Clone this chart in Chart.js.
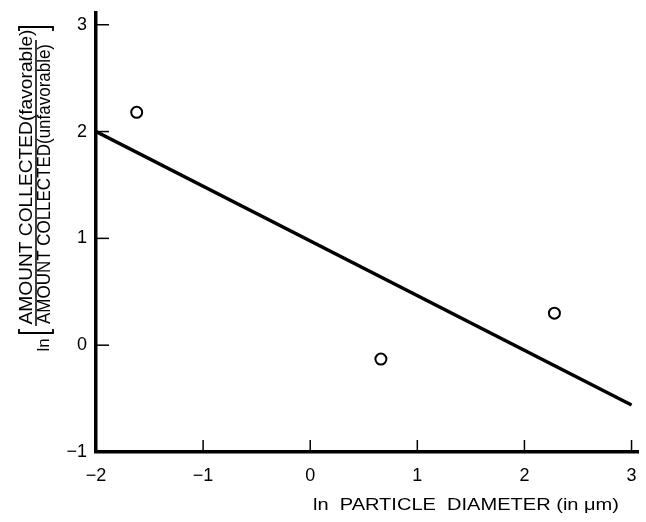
<!DOCTYPE html>
<html><head><meta charset="utf-8">
<script src="https://cdn.jsdelivr.net/npm/chart.js@4"></script>
<style>html,body{margin:0;padding:0;background:#fff}#wrap{width:646px;height:522px}</style>
</head><body><div id="wrap"><canvas id="c" width="646" height="522"></canvas></div>
<script>
// ---- data ----
const xTicks = [-2, -1, 0, 1, 2, 3];
const yTicks = [-1, 0, 1, 2, 3];
const xTickLabels = ['\u22122', '\u22121', '0', '1', '2', '3'];
const yTickLabels = ['\u22121', '0', '1', '2', '3'];
const pointsX = [-1.62, 0.66, 2.28];
const pointsY = [2.18, -0.13, 0.30];
const fitX = [-2, 3];
const fitY = [2.0, -0.56];
const xTitle = 'ln  PARTICLE  DIAMETER (in \u03bcm)';
const yTitleTop = 'AMOUNT COLLECTED(favorable)';
const yTitleBottom = 'AMOUNT COLLECTED(unfavorable)';
const yTitlePrefix = 'ln';

const FONT = '"Liberation Sans", Arial, sans-serif';

function drawFitted(ctx, text, cx, cy, targetW, size) {
  ctx.font = size + 'px ' + FONT;
  const w = ctx.measureText(text).width;
  ctx.save();
  ctx.translate(cx, cy);
  ctx.scale(targetW / w, 1);
  ctx.textAlign = 'center';
  ctx.textBaseline = 'middle';
  ctx.fillText(text, 0, 0);
  ctx.restore();
}

const decor = {
  id: 'decor',
  afterDraw(chart) {
    const ctx = chart.ctx;
    const xs = chart.scales.x, ys = chart.scales.y;
    const ca = chart.chartArea;
    ctx.save();
    ctx.strokeStyle = '#000';
    ctx.fillStyle = '#000';
    ctx.lineWidth = 1.5;
    // inward ticks
    xTicks.forEach(v => {
      if (v === xTicks[0]) return;
      const px = xs.getPixelForValue(v);
      ctx.beginPath(); ctx.moveTo(px, ca.bottom); ctx.lineTo(px, ca.bottom - 12); ctx.stroke();
    });
    yTicks.forEach(v => {
      if (v === yTicks[0]) return;
      const py = ys.getPixelForValue(v);
      ctx.beginPath(); ctx.moveTo(ca.left, py); ctx.lineTo(ca.left + 13, py); ctx.stroke();
    });
    // x title
    drawFitted(ctx, xTitle, 466, 506, 306, 16);
    // y title (rotated): local x = -screenY, local y = screenX
    ctx.save();
    ctx.rotate(-Math.PI / 2);
    drawFitted(ctx, yTitleTop, -177, 27, 295, 18);
    drawFitted(ctx, yTitleBottom, -184, 45, 280, 18);
    ctx.lineWidth = 1.5;
    ctx.beginPath(); ctx.moveTo(-326, 36); ctx.lineTo(-40, 36); ctx.stroke();
    ctx.font = '17px ' + FONT;
    ctx.textAlign = 'center'; ctx.textBaseline = 'middle';
    ctx.fillText(yTitlePrefix, -345, 44);
    ctx.lineWidth = 1.8;
    ctx.beginPath();
    ctx.moveTo(-329, 19); ctx.lineTo(-333, 19); ctx.lineTo(-333, 53); ctx.lineTo(-329, 53);
    ctx.stroke();
    ctx.beginPath();
    ctx.moveTo(-31, 19); ctx.lineTo(-27, 19); ctx.lineTo(-27, 53); ctx.lineTo(-31, 53);
    ctx.stroke();
    ctx.restore();
    ctx.restore();
  }
};

new Chart(document.getElementById('c'), {
  data: {
    datasets: [
      {
        type: 'line',
        data: fitX.map((x, i) => ({ x: x, y: fitY[i] })),
        borderColor: '#000', borderWidth: 3.5, pointRadius: 0, fill: false, tension: 0
      },
      {
        type: 'scatter',
        data: pointsX.map((x, i) => ({ x: x, y: pointsY[i] })),
        pointStyle: 'circle', pointRadius: 5.5, borderWidth: 2,
        borderColor: '#000', backgroundColor: 'rgba(255,255,255,0)'
      }
    ]
  },
  options: {
    responsive: false, animation: false, devicePixelRatio: 1,
    layout: { padding: { top: 13, right: 3, left: 0, bottom: 0 } },
    plugins: { legend: { display: false }, tooltip: { enabled: false } },
    scales: {
      x: {
        type: 'linear', min: -2, max: 3.065,
        afterBuildTicks: s => { s.ticks = xTicks.map(v => ({ value: v })); },
        afterFit: s => { s.height = 70; s.paddingLeft = 0; s.paddingRight = 0; },
        ticks: {
          callback: v => xTickLabels[xTicks.indexOf(v)],
          font: { family: FONT, size: 18 }, color: '#000', padding: 13,
          maxRotation: 0, autoSkip: false
        },
        grid: { display: false, drawTicks: false },
        border: { display: true, width: 3.5, color: '#000' }
      },
      y: {
        type: 'linear', min: -1, max: 3.11,
        afterBuildTicks: s => { s.ticks = yTicks.map(v => ({ value: v })); },
        afterFit: s => { s.width = 96; s.paddingTop = 0; s.paddingBottom = 0; },
        ticks: {
          callback: v => yTickLabels[yTicks.indexOf(v)],
          font: { family: FONT, size: 18 }, color: '#000', padding: 9,
          autoSkip: false
        },
        grid: { display: false, drawTicks: false },
        border: { display: true, width: 3.5, color: '#000' }
      }
    }
  },
  plugins: [decor]
});
</script>
</body></html>
